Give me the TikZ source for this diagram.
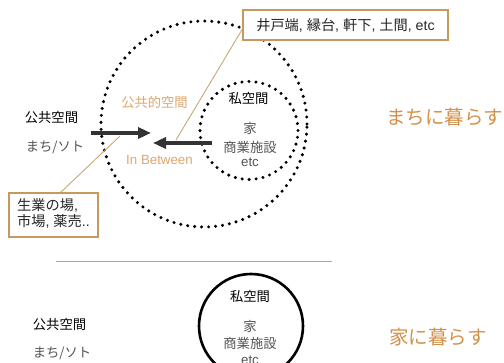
\documentclass[tikz,border=0pt]{standalone}
\usepackage{fontspec}
\setmainfont{Noto Sans CJK JP}
\newfontfamily\lat{Liberation Sans}
\usetikzlibrary{arrows.meta}
\definecolor{tan}{HTML}{C9A878}
\definecolor{boxc}{HTML}{C8995E}
\definecolor{orng}{HTML}{D4914A}
\definecolor{txtg}{HTML}{555555}
\definecolor{arr}{HTML}{333333}
\tikzset{
  dotc/.style={circle,draw=black,line width=3.4pt,dash pattern=on 0pt off 7pt,line cap=round,inner sep=0pt},
  solidc/.style={circle,draw=black,line width=2.6pt,inner sep=0pt},
  lbl/.style={font=\fontsize{13.3}{15}\selectfont,text=black,inner sep=0pt},
  sub/.style={font=\fontsize{13.3}{15}\selectfont,text=txtg,inner sep=0pt},
  org/.style={font=\fontsize{13.3}{15}\selectfont,text=orng!80!white,inner sep=0pt},
  big/.style={font=\fontsize{19.5}{21}\selectfont,text=orng,inner sep=0pt},
  note/.style={draw=boxc,line width=1.3pt,fill=white,font=\fontsize{14.2}{17.5}\selectfont,text=black!85},
  conn/.style={draw=tan,line width=0.9pt},
  flow/.style={draw=arr,line width=3.6pt,-{Triangle[length=13pt,width=11pt]}}
}
\begin{document}
\begin{tikzpicture}[x=1pt,y=-1pt]
\clip (0,0) rectangle (504,363);
\fill[white] (0,0) rectangle (504,363);
% upper part
\node[dotc,minimum size=206pt] (outer) at (204,124) {};
\node[dotc,minimum size=98pt] (inner) at (249,130.5) {};
\coordinate (c1) at (176,140);
\coordinate (c2) at (120,136);
\coordinate (c1e) at (243,28);
\coordinate (c2e) at (60,193);
\draw[conn] (c1) -- (c1e);
\draw[conn] (c2) -- (c2e);
\node[note,minimum width=205pt,minimum height=30pt,inner sep=0pt] (n1) at (345.5,25) {井戸端{\lat, }縁台{\lat, }軒下{\lat, }土間{\lat, etc}};
\node[note,minimum width=89pt,minimum height=44pt,inner sep=0pt] (n2) at (53.5,215) {\begin{tabular}{@{}l@{}}生業の場{\lat,}\\[-2pt]市場{\lat, }薬売{\lat ..}\end{tabular}};
\coordinate (a1s) at (91,133);
\coordinate (a1e) at (151,133);
\coordinate (a2s) at (212,143);
\coordinate (a2e) at (153,143);
\draw[flow] (a1s) -- (a1e);
\draw[flow] (a2s) -- (a2e);
\node[lbl] (pub1) at (51.5,117) {公共空間};
\node[sub] (mach1) at (55,147) {まち/ソト};
\node[org] (kk) at (154.5,102) {公共的空間};
\node[org,font=\lat\fontsize{13.3}{15}\selectfont] (ib) at (159.5,160) {In Between};
\node[lbl] (pri1) at (248.5,98) {私空間};
\node[sub] (ie1) at (250,128) {家};
\node[sub] (sh1) at (250,147) {商業施設};
\node[sub,font=\lat\fontsize{13.3}{15}\selectfont] (etc1) at (250,162) {etc};
\node[big] (t1) at (444.5,117) {まちに暮らす};
% divider
\coordinate (d1) at (56,261);
\coordinate (d2) at (332,261);
\draw[draw=tan!90!gray,line width=0.9pt] (d1) -- (d2);
% lower part
\node[solidc,minimum size=104pt] (low) at (251,326) {};
\node[lbl] (pri2) at (250,296) {私空間};
\node[sub] (ie2) at (250,326) {家};
\node[sub] (sh2) at (250,343) {商業施設};
\node[sub,font=\lat\fontsize{13.3}{15}\selectfont] (etc2) at (250,360) {etc};
\node[lbl] (pub2) at (59.5,324) {公共空間};
\node[sub] (mach2) at (62,353) {まち/ソト};
\node[big] (t2) at (438,337) {家に暮らす};
\end{tikzpicture}
\end{document}
